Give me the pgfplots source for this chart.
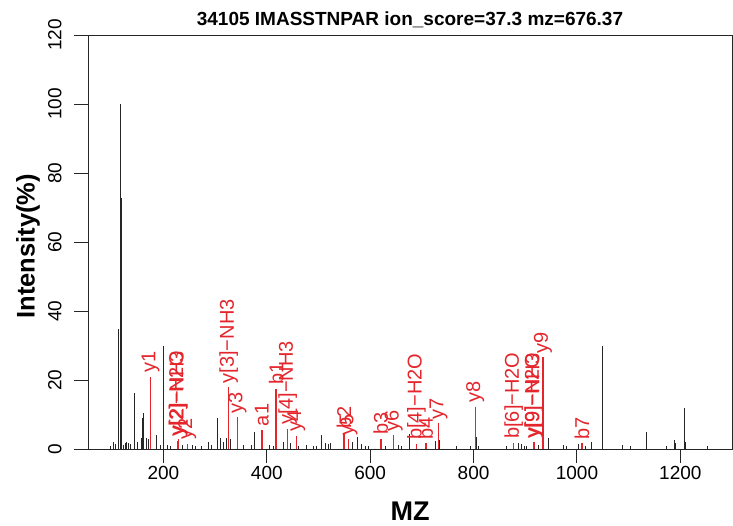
\documentclass[border=0pt]{standalone}
\usepackage{fontspec}
\setmainfont{Liberation Sans}
\usepackage{pgfplots}
\usepackage{pgfplotstable}
\pgfplotsset{compat=1.18}
\definecolor{ionred}{RGB}{228,38,44}

% unmatched peaks
\pgfplotstableread{
mz int
97 1.0
103 2.1
108 1.4
113.6 34.8
116.1 100
118.1 72.8
122.6 1.2
126 1.8
129 2.0
131.5 1.6
135.5 1.4
143.1 16.3
144.1 15.8
150 2.0
156.8 3.2
158.7 9.0
161.6 10.5
167.7 3.2
171 2.8
187.1 4.0
193.5 1.2
200.7 29.9
208 1.2
213 1.0
236.8 1.2
256 1.2
262 1.0
274 0.8
287 2.0
292 1.2
304.7 9.0
310 3.2
316 2.0
322.6 3.2
329 2.8
354 1.2
371 1.2
376 5.0
405 1.2
412 0.8
432 2.0
445 1.6
462 0.8
477 1.2
491 1.0
497 1.0
505 4.0
513 1.8
519 1.4
522.6 1.7
566.4 2.0
576 3.4
584 1.4
590 1.0
596 1.0
629 1.0
655 1.2
660 0.9
676 4.4
725.7 2.3
735 2.6
766 1.0
793.5 1.0
806.4 3.5
810 1.0
864.5 0.8
886.5 1.7
892 1.4
898 1.0
903 1.0
925 1.2
935.4 9.6
945 3.1
974 1.2
980.6 1.0
1003 1.4
1017 1.0
1029 2.0
1048.5 29.9
1049.5 15.2
1089 1.1
1104.5 1.0
1134 4.9
1135 3.0
1173 1.0
1189.6 2.6
1191 1.8
1207.7 12.0
1208.7 6.5
1210 2.0
1253.5 0.8
}\otherpeaks

% matched ions: peak height and where the label starts
\pgfplotstableread{
mz int ly label
175.12 20.8 22.0 y1
228.14 2.3 3.6 y[2]−H2O
229.13 2.9 4.0 y[2]−NH3
246.16 1.4 2.6 y2
326.18 17.9 19.0 y[3]−NH3
343.21 9.2 10.3 y3
390.3 5.5 6.6 a1
418.3 17.4 18.5 b1
440.23 5.8 6.9 y[4]−NH3
457.25 3.8 4.9 y4
549.3 4.7 5.8 b2
558.3 2.9 4.0 y5
620.4 3.0 4.1 b3
645.3 4.0 5.1 y6
689.4 1.5 2.6 b[4]−H2O
707.4 1.6 2.7 b4
732.36 7.4 8.5 y7
803.4 12.3 13.4 y8
877.5 1.8 2.9 b[6]−H2O
916.43 1.9 3.0 y[9]−H2O
917.43 2.1 3.2 y[9]−NH3
934.44 26.6 27.7 y9
1009.5 1.7 2.8 b7
}\ionpeaks

\begin{document}
\begin{tikzpicture}
\begin{axis}[
  scale only axis, width=644pt, height=414pt,
  xmin=54, xmax=1300, ymin=0, ymax=120,
  xtick={200,400,...,1200}, ytick={0,20,...,120},
  tick align=outside, xtick pos=bottom, ytick pos=left,
  major tick length=14pt,
  axis line style={line width=0.9pt, black!85},
  every tick/.style={line width=0.9pt, black!85},
  /pgf/number format/assume math mode=true,
  /pgf/number format/1000 sep={},
  ticklabel style={font=\fontsize{19}{19}\selectfont},
  yticklabel style={rotate=90, anchor=south},
  yticklabel shift=9pt,
  xlabel={MZ}, ylabel={Intensity(\%)},
  label style={font=\bfseries\fontsize{27}{27}\selectfont},
  xlabel style={at={(axis description cs:0.5,-0.1498)}, anchor=center},
  ylabel style={at={(axis description cs:-0.0932,0.49)}, anchor=center, font=\bfseries\fontsize{25.5}{25.5}\selectfont},
  title={34105 IMASSTNPAR ion\_score=37.3 mz=676.37},
  title style={font=\bfseries\fontsize{19}{19}\selectfont, at={(axis description cs:0.5,1)}, anchor=south, yshift=-2pt},
  clip=false,
]
\addplot[ycomb, line width=1pt, black!85, mark=none] table[x=mz, y=int] {\otherpeaks};
\addplot[ycomb, line width=1.6pt, ionred, mark=none] table[x=mz, y=int] {\ionpeaks};
\addplot[only marks, mark=none, point meta=explicit symbolic,
  nodes near coords,
  nodes near coords style={rotate=90, anchor=west, inner sep=0pt, text=ionred, font=\fontsize{20}{20}\selectfont}]
  table[x=mz, y=ly, meta=label] {\ionpeaks};
\end{axis}
\path (current axis.south west) ++(-88pt,-76pt) rectangle ++(733pt,525pt);
\end{tikzpicture}
\end{document}
